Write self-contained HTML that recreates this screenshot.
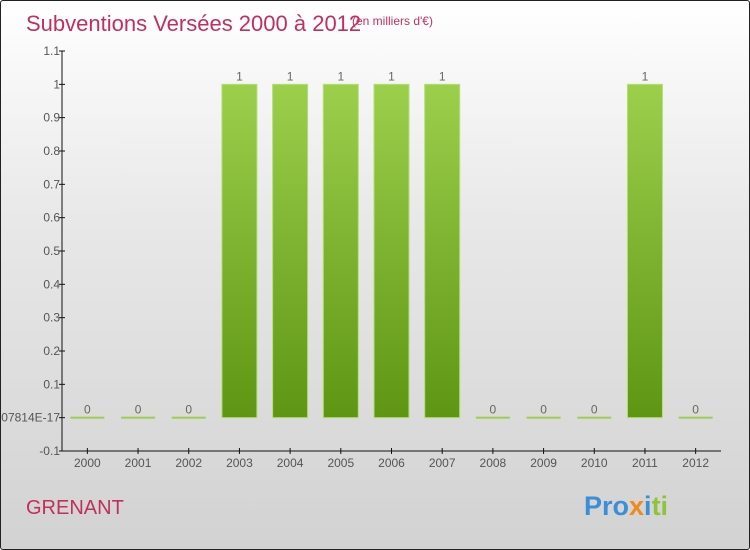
<!DOCTYPE html>
<html><head><meta charset="utf-8"><style>
body{margin:0;width:750px;height:550px;overflow:hidden;font-family:"Liberation Sans",sans-serif}
#c{position:absolute;left:0;top:0;width:748px;height:548px;border:1px solid #222;border-radius:3px;background:linear-gradient(#fff,#e8e8e8 40%,#d2d2d2);overflow:hidden}
</style></head><body>
<div id="c">
<svg id="s" width="750" height="550">
<defs><linearGradient id="g" x1="0" y1="0" x2="0" y2="1"><stop offset="0" stop-color="#9ccf4c"/><stop offset="1" stop-color="#5e9614"/></linearGradient></defs>
<text x="25" y="30" font-size="22" fill="#c0305c">Subventions Versées 2000 à 2012</text>
<text x="351" y="24" font-size="12" fill="#c0305c">(en milliers d'€)</text>
<text x="25" y="513" font-size="20" fill="#c0305c">GRENANT</text>
<text x="583" y="514" font-size="27" font-weight="bold"><tspan fill="#3a8fd8">Pro</tspan><tspan fill="#f08a1c">x</tspan><tspan fill="#3a8fd8">i</tspan><tspan fill="#8cc43c">ti</tspan></text>
<g id="plot"></g>
</svg></div>
<script>
const categories=["2000","2001","2002","2003","2004","2005","2006","2007","2008","2009","2010","2011","2012"];
const values=[0,0,0,1,1,1,1,1,0,0,0,1,0];
const tickValues=[1.1,1,0.9,0.8,0.7,0.6,0.5,0.4,0.3,0.2,0.1,0,-0.1];
const tickLabels=["1.1","1","0.9","0.8","0.7","0.6","0.5","0.4","0.3","0.2","0.1","-1.3877787807814E-17","-0.1"];
const NS="http://www.w3.org/2000/svg",g=document.getElementById('plot');
const x0=61,x1=720,yTop=50,yBot=450,vMin=-0.1,vMax=1.1;
const y=v=>yBot-(v-vMin)/(vMax-vMin)*(yBot-yTop);
const bw=(x1-x0)/categories.length;
const xc=i=>x0+bw*(i+0.5);
function el(t,a){const e=document.createElementNS(NS,t);for(const k in a)e.setAttribute(k,a[k]);g.appendChild(e);return e;}
let ax=el('line',{x1:x0,y1:yTop,x2:x0,y2:yBot,stroke:'#111'});


let bx=el('line',{x1:x0,y1:yBot,x2:x1,y2:yBot,stroke:'#111'});


tickValues.forEach((v,i)=>{
 const yy=y(v);
 el('line',{x1:x0-3,y1:yy,x2:x0+3,y2:yy,stroke:'#111'});
 const t=el('text',{x:x0-2,y:yy+4,'text-anchor':'end','font-size':12,fill:'#555'});
 t.textContent=tickLabels[i];
 
 
});
categories.forEach((c,i)=>{
 const cx=xc(i);
 el('line',{x1:cx,y1:yBot-3,x2:cx,y2:yBot+3,stroke:'#111'});
 const t=el('text',{x:cx,y:yBot+16,'text-anchor':'middle','font-size':12,fill:'#555'});
 t.textContent=c;
 
 
 const v=values[i],top=y(Math.max(v,0)),bot=y(Math.min(v,0));
 let b;
 if(v===0){b=el('rect',{x:cx-17,y:y(0)-1,width:34,height:2,fill:'#9ccf4c'});}
 else{b=el('rect',{x:cx-17.5,y:top,width:35,height:bot-top,fill:'url(#g)',stroke:'#b4de78','stroke-width':1});}
 
 
 const l=el('text',{x:cx,y:top-4,'text-anchor':'middle','font-size':12,fill:'#666'});
 l.textContent=String(v);
 
 
});
</script>
</body></html>
